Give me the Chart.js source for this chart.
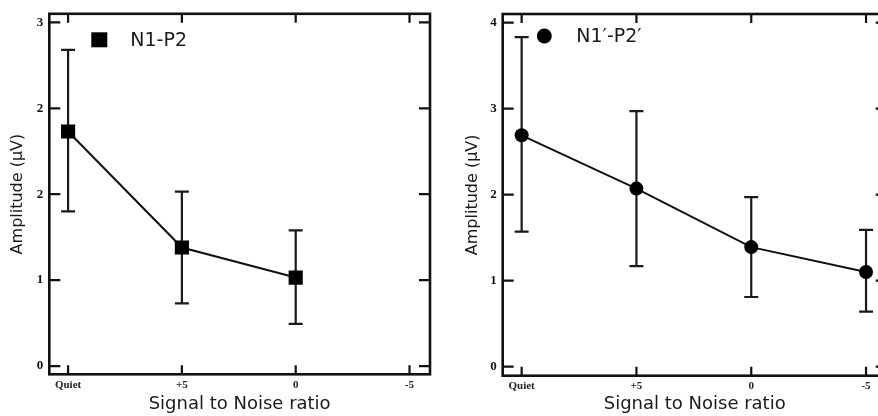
<!DOCTYPE html>
<html>
<head>
<meta charset="utf-8">
<script src="https://cdn.jsdelivr.net/npm/chart.js@4/dist/chart.umd.min.js"></script>
<style>
  html, body { margin: 0; padding: 0; background: #fff; overflow: hidden; }
  canvas { position: absolute; top: 0; }
  #left { left: 0; }
  #right { left: 440px; }
</style>
</head>
<body>
<canvas id="left" width="440" height="416"></canvas>
<canvas id="right" width="460" height="416"></canvas>
<script>
const conditions = ["Quiet", "+5", "0", "-5"];

// N1-P2 (left panel) - no value at -5
const n1p2Mean = [2.73, 1.38, 1.03];
const n1p2High = [3.68, 2.03, 1.58];
const n1p2Low = [1.80, 0.73, 0.49];
const leftYLabels = ["0", "1", "2", "2", "3"];

// N1'-P2' (right panel)
const n1pMean = [2.69, 2.07, 1.39, 1.10];
const n1pHigh = [3.83, 2.97, 1.97, 1.59];
const n1pLow = [1.57, 1.17, 0.81, 0.64];
const rightYLabels = ["0", "1", "2", "3", "4"];

const TITLE_FONT = "DejaVu Sans";

// frame, inward ticks, error bars and the little legend
const framePlugin = {
  id: "frame",
  beforeDatasetsDraw(chart, args, opts) {
    const { ctx } = chart;
    const x = chart.scales.x, y = chart.scales.y;
    ctx.save();
    ctx.strokeStyle = "#1a1a1a";
    ctx.lineWidth = 2.2;
    opts.high.forEach((hi, i) => {
      const px = x.getPixelForValue(i);
      const pTop = y.getPixelForValue(hi);
      const pBot = y.getPixelForValue(opts.low[i]);
      ctx.beginPath();
      ctx.moveTo(px, pTop); ctx.lineTo(px, pBot);
      ctx.moveTo(px - 7, pTop); ctx.lineTo(px + 7, pTop);
      ctx.moveTo(px - 7, pBot); ctx.lineTo(px + 7, pBot);
      ctx.stroke();
    });
    ctx.restore();
  },
  afterDatasetsDraw(chart, args, opts) {
    const { ctx, chartArea: a } = chart;
    const x = chart.scales.x, y = chart.scales.y;
    ctx.save();
    ctx.strokeStyle = "#111";
    ctx.lineWidth = 2.6;
    ctx.strokeRect(a.left, a.top, a.right - a.left, a.bottom - a.top);
    ctx.lineWidth = 2.2;
    ctx.beginPath();
    y.ticks.forEach(t => {
      const py = y.getPixelForValue(t.value);
      ctx.moveTo(a.left, py); ctx.lineTo(a.left + 11, py);
      ctx.moveTo(a.right, py); ctx.lineTo(a.right - 11, py);
    });
    x.ticks.forEach(t => {
      const px = x.getPixelForValue(t.value);
      ctx.moveTo(px, a.bottom); ctx.lineTo(px, a.bottom - 9);
      ctx.moveTo(px, a.top); ctx.lineTo(px, a.top + 9);
    });
    ctx.stroke();

    // legend
    const lx = a.left + opts.legendX, ly = a.top + opts.legendY;
    ctx.fillStyle = "#000";
    ctx.beginPath();
    if (opts.marker === "rect") {
      ctx.rect(lx - 8, ly - 7.5, 16, 15);
    } else {
      ctx.arc(lx, ly, 7.5, 0, Math.PI * 2);
    }
    ctx.fill();
    ctx.fillStyle = "#1a1a1a";
    ctx.font = "19px '" + TITLE_FONT + "'";
    ctx.textBaseline = "middle";
    ctx.fillText(opts.label, lx + opts.textGap, ly + 1);
    ctx.restore();
  }
};

function makeChart(id, mean, high, low, yLabels, marker, label, geo) {
  const points = mean.map((v, i) => ({ x: i, y: v }));
  return new Chart(document.getElementById(id), {
    type: "scatter",
    data: {
      datasets: [{
        label: label,
        data: points,
        showLine: true,
        borderColor: "#111",
        borderWidth: 2,
        backgroundColor: "#000",
        pointStyle: marker,
        pointRadius: marker === "rect" ? 10 : 7,
        pointBorderWidth: 0
      }]
    },
    options: {
      responsive: false,
      animation: false,
      layout: { padding: { top: geo.top, right: geo.right, left: 0, bottom: 0 } },
      plugins: {
        legend: { display: false },
        tooltip: { enabled: false },
        frame: {
          high: high, low: low, marker: marker, label: label,
          legendX: geo.legendX, legendY: geo.legendY, textGap: geo.textGap
        }
      },
      scales: {
        x: {
          type: "linear",
          min: -0.165,
          max: 3.18,
          afterBuildTicks: s => { s.ticks = conditions.map((c, i) => ({ value: i })); },
          afterFit: s => { s.height = geo.xHeight; },
          grid: { display: false, drawTicks: false },
          border: { display: false },
          ticks: {
            padding: 4,
            color: "#222",
            font: { family: "Liberation Serif", size: 11, weight: "bold" },
            callback: v => conditions[v]
          },
          title: {
            display: true,
            text: "Signal to Noise ratio",
            color: "#1a1a1a",
            font: { family: TITLE_FONT, size: 18 },
            padding: { top: 0, bottom: 1 }
          }
        },
        y: {
          min: geo.yMin,
          max: 4.1,
          afterBuildTicks: s => { s.ticks = yLabels.map((l, i) => ({ value: i })); },
          afterFit: s => { s.width = geo.yWidth; },
          grid: { display: false, drawTicks: false },
          border: { display: false },
          ticks: {
            padding: 6,
            color: "#111",
            font: { family: "Liberation Serif", size: 13, weight: "bold" },
            callback: v => yLabels[v]
          },
          title: {
            display: true,
            text: "Amplitude (\u03bcV)",
            color: "#1a1a1a",
            font: { family: TITLE_FONT, size: 16 },
            padding: { top: geo.yTitlePad, bottom: 0 }
          }
        }
      }
    },
    plugins: [framePlugin]
  });
}

makeChart("left", n1p2Mean, n1p2High, n1p2Low, leftYLabels, "rect", "N1-P2",
  { top: 12.3, right: 7.3, xHeight: 41.7, yWidth: 49.3, yMin: -0.096,
    yTitlePad: 8, legendX: 50, legendY: 26, textGap: 31 });

makeChart("right", n1pMean, n1pHigh, n1pLow, rightYLabels, "circle", "N1\u2032-P2\u2032",
  { top: 14, right: 13.3, xHeight: 40.3, yWidth: 62.7, yMin: -0.105,
    yTitlePad: 23, legendX: 41.6, legendY: 22, textGap: 32 });
</script>
</body>
</html>
